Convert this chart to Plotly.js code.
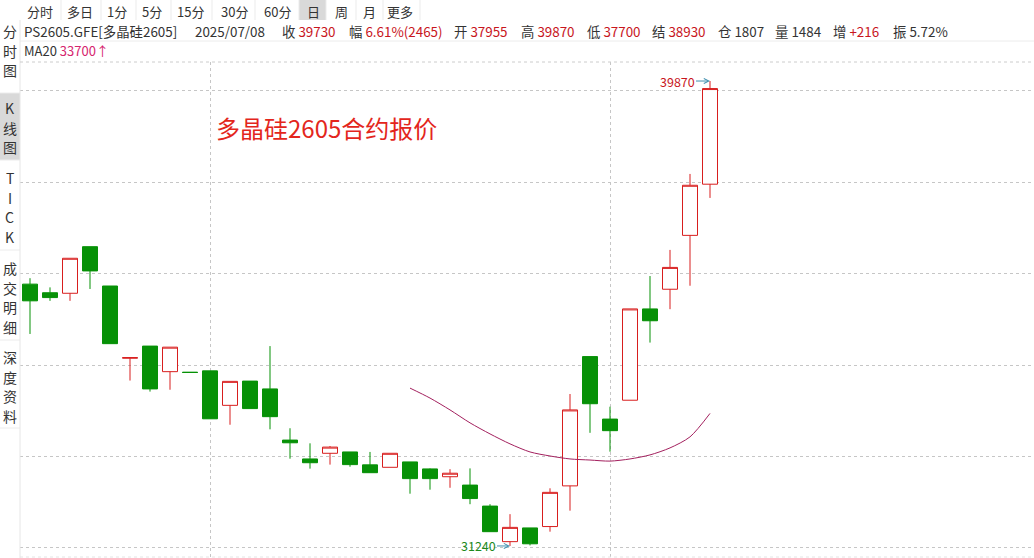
<!DOCTYPE html>
<html><head><meta charset="utf-8">
<script src="https://cdn.plot.ly/plotly-3.0.1.min.js"></script>
<style>html,body{margin:0;padding:0;background:#fff;}#chart{width:1034px;height:558px;}</style>
</head><body><div id="chart"></div>
<script>
// ---------- data ----------
const dates = [
  '2025-05-20','2025-05-21','2025-05-22','2025-05-23','2025-05-26','2025-05-27','2025-05-28','2025-05-29','2025-05-30',
  '2025-06-03','2025-06-04','2025-06-05','2025-06-06','2025-06-09','2025-06-10','2025-06-11','2025-06-12','2025-06-13',
  '2025-06-16','2025-06-17','2025-06-18','2025-06-19','2025-06-20','2025-06-23','2025-06-24','2025-06-25','2025-06-26',
  '2025-06-27','2025-06-30',
  '2025-07-01','2025-07-02','2025-07-03','2025-07-04','2025-07-07','2025-07-08'
];
const openP  = [36100,35940,35930,36795,36065,34725,34950,34475,34465,34490,33850,34300,34155,33205,32855,32960,32985,32745,32700,32800,32670,32525,32370,31980,31320,31575,31600,32355,34755,33595,33945,35640,36005,37005,37955];
const highP  = [36210,36040,36580,36795,36065,34735,34950,34930,34465,34490,34295,34300,34950,33425,33145,33095,32985,32985,32960,32800,32680,32665,32680,32015,31830,31575,32310,34060,34755,33825,35640,36250,36735,38145,39870];
const lowP   = [35175,35790,35790,36010,34995,34310,34105,34140,34460,33600,33490,33790,33405,32860,32675,32750,32710,32600,32700,32210,32285,32320,32015,31505,31240,31250,31505,31895,33340,32990,33945,35015,35635,36070,37700];
const closeP = [35790,35850,36580,36345,34995,34735,34155,34930,34460,33600,34295,33790,33640,33155,32785,33075,32750,32600,32960,32490,32490,32590,32120,31505,31585,31280,32235,33765,33880,33380,35640,35420,36410,37935,39730];
const ma20Dates = dates.slice(19);
const ma20 = [34170,33985,33765,33525,33320,33135,32985,32910,32855,32835,32815,32855,32930,33060,33265,33700];

const chartTitle = '多晶硅2605合约报价';
const maxLabel = '39870', maxDate = '2025-07-08', maxVal = 39870;
const minLabel = '31240', minDate = '2025-06-24', minVal = 31240;

const toolLabels = ['分时','多日','1分','5分','15分','30分','60分','日','周','月','更多'];
const sideGroups = [['分','时','图'],['K','线','图'],['T','I','C','K'],['成','交','明','细'],['深','度','资','料']];
const infoLabels = ['PS2605.GFE[多晶硅2605]','2025/07/08','收','幅','开','高','低','结','仓','量','增','振'];
const infoValues = ['','','39730','6.61%(2465)','37955','39870','37700','38930','1807','1484','+216','5.72%'];
const infoValueRed = [false,false,true,true,true,true,true,true,false,false,true,false];
const maLabel = 'MA20', maValue = '33700↑';

// ---------- layout helpers ----------
const L = 20, R = 1034, T = 62, B = 557;
const px = x => (x - L) / (R - L);
const py = y => (B - y) / (B - T);
const RED = '#d81e1e', GREEN = '#079107', DARK = '#333333', FONT = 'Noto Sans CJK SC, Noto Sans, sans-serif';

const candle = {
  type: 'candlestick', x: dates, open: openP, high: highP, low: lowP, close: closeP,
  increasing: {line: {color: RED, width: 1}, fillcolor: '#ffffff'},
  decreasing: {line: {color: GREEN, width: 1}, fillcolor: GREEN},
  whiskerwidth: 0, hoverinfo: 'skip'
};
const maTrace = {
  type: 'scatter', mode: 'lines', x: ma20Dates, y: ma20,
  line: {color: '#a3205e', width: 1, shape: 'spline', smoothing: 0.8}, hoverinfo: 'skip'
};

const annotations = [];
const shapes = [];
function txt(x, y, t, opts) {
  annotations.push(Object.assign({xref: 'paper', yref: 'paper', x: px(x), y: py(y), text: t, showarrow: false,
    xanchor: 'left', yanchor: 'middle', font: {family: FONT, size: 13, color: DARK}}, opts || {}));
}

// toolbar
const toolCenters = [40, 80, 117, 152, 190, 234, 277, 313, 341, 369, 400];
const toolSeps = [61, 101, 136, 171, 212, 255, 299, 326, 356, 383, 420];
shapes.push({type: 'rect', xref: 'paper', yref: 'paper', x0: px(299), x1: px(326), y0: py(20), y1: py(0),
  fillcolor: '#d9d9d9', line: {width: 0}, layer: 'below'});
toolSeps.forEach(s => shapes.push({type: 'line', xref: 'paper', yref: 'paper', x0: px(s), x1: px(s), y0: py(20), y1: py(0),
  line: {color: '#ebebeb', width: 1}}));
toolLabels.forEach((t, i) => txt(toolCenters[i], 11, t, {xanchor: 'center'}));

// info row
const infoX = [22, 193, 280, 347, 452, 519, 585, 650, 716, 773, 831, 891];
infoLabels.forEach((t, i) => {
  let s = t;
  if (infoValues[i]) s += ' <span style="color:' + (infoValueRed[i] ? '#c8161d' : DARK) + '">' + infoValues[i] + '</span>';
  txt(infoX[i], 31, s, {font: {family: FONT, size: 13.4, color: DARK}});
});
shapes.push({type: 'line', xref: 'paper', yref: 'paper', x0: px(20), x1: px(1034), y0: py(41), y1: py(41),
  line: {color: '#ececec', width: 1}});
txt(22, 50, maLabel + ' <span style="color:#d6246e">' + maValue + '</span>', {font: {family: FONT, size: 13, color: DARK}});

// sidebar
const sideStart = [31, 108, 178, 268, 357];
const sideStep = 19.7;
shapes.push({type: 'rect', xref: 'paper', yref: 'paper', x0: px(0), x1: px(20), y0: py(160), y1: py(93),
  fillcolor: '#d9d9d9', line: {width: 0}, layer: 'below'});
[93, 160, 250, 340, 428].forEach(y => shapes.push({type: 'line', xref: 'paper', yref: 'paper', x0: px(0), x1: px(20),
  y0: py(y), y1: py(y), line: {color: '#ececec', width: 1}}));
sideGroups.forEach((g, gi) => g.forEach((c, ci) =>
  txt(9.5, sideStart[gi] + ci * sideStep, c, {xanchor: 'center', font: {family: FONT, size: 14, color: DARK}})));
shapes.push({type: 'line', xref: 'paper', yref: 'paper', x0: px(20), x1: px(20), y0: py(558), y1: py(20),
  line: {color: '#e6e6e6', width: 1}});

// plot frame dotted borders
shapes.push({type: 'line', xref: 'paper', yref: 'paper', x0: 0, x1: 1, y0: 1, y1: 1, line: {color: '#cccccc', width: 1, dash: 'dot'}});
shapes.push({type: 'line', xref: 'paper', yref: 'paper', x0: 0, x1: 1, y0: 0, y1: 0, line: {color: '#e4e4e4', width: 1, dash: 'dot'}});

// title
txt(214, 128, chartTitle, {font: {family: FONT, size: 24, color: '#e3261c'}});

// max / min labels
annotations.push({xref: 'x', yref: 'y', x: maxDate, y: maxVal, text: maxLabel, showarrow: true, ax: -33, ay: 0,
  arrowhead: 5, arrowsize: 1, arrowwidth: 1, arrowcolor: '#3f8fae', standoff: 0,
  font: {family: FONT, size: 12.5, color: '#c8161d'}});
annotations.push({xref: 'x', yref: 'y', x: minDate, y: minVal, text: minLabel, showarrow: true, ax: -32, ay: 0,
  arrowhead: 5, arrowsize: 1, arrowwidth: 1, arrowcolor: '#3f8fae', standoff: 0,
  font: {family: FONT, size: 12.5, color: '#1d8a1d'}});

const layout = {
  width: 1034, height: 558,
  margin: {l: L, r: 0, t: T, b: 558 - B, pad: 0},
  paper_bgcolor: '#ffffff', plot_bgcolor: '#ffffff',
  showlegend: false, hovermode: false,
  boxgap: 0.25, boxgroupgap: 0,
  xaxis: {type: 'category', range: [-0.5, 50.2], rangeslider: {visible: false}, showticklabels: false, ticks: '',
    tickvals: ['2025-06-03', '2025-07-01'], showgrid: true, gridcolor: '#c6c6c6', griddash: 'dot', gridwidth: 1,
    zeroline: false, showline: false, fixedrange: true},
  yaxis: {range: [31035, 40223], tick0: 31203, dtick: 1697, showticklabels: false, ticks: '',
    showgrid: true, gridcolor: '#c6c6c6', griddash: 'dot', gridwidth: 1, zeroline: false, showline: false, fixedrange: true},
  shapes: shapes, annotations: annotations
};

Plotly.newPlot('chart', [candle, maTrace], layout, {displayModeBar: false, staticPlot: true});
</script>
</body></html>
